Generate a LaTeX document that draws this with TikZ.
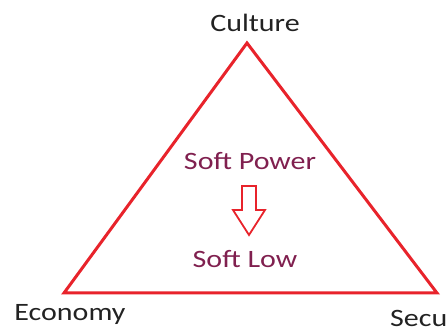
\documentclass[tikz,border=0pt]{standalone}
\usepackage{xcolor}
\usepackage{fontspec}
\setmainfont{Carlito}[FakeStretch=1.2]
\usepackage{tikz}
\usetikzlibrary{positioning, calc}

\definecolor{trired}{HTML}{E8232B}
\definecolor{softtext}{HTML}{80204F}
\definecolor{labeltext}{HTML}{222222}

\begin{document}
\begin{tikzpicture}[x=1pt, y=-1pt,
    corner/.style={font=\fontsize{25}{28}\selectfont, text=labeltext, inner sep=0pt},
    soft/.style={font=\fontsize{25}{28}\selectfont, text=softtext, inner sep=0pt}]
    \useasboundingbox (0,0) rectangle (448,328);
    \clip (0,0) rectangle (448,328);
    % Triangle corners
    \coordinate (top) at (247,43);
    \coordinate (left) at (64,293);
    \coordinate (right) at (437,293);
    \draw[trired, line width=3pt, line join=miter] (top) -- (left) -- (right) -- cycle;
    % Corner labels
    \node[corner, anchor=base] (culture) at (255,32) {Culture};
    \node[corner, anchor=base] (economy) at (70,321) {Economy};
    \node[corner, anchor=base west] (security) at (390,327) {Security};
    % Content
    \node[soft, anchor=base] (power) at (250,170) {Soft Power};
    \node[soft, anchor=base] (law) at (245,268) {Soft Low};
    % Hollow arrow
    \draw[trired, line width=1.8pt, line join=miter]
        (242,186) -- (256,186) -- (256,210) -- (265,210) -- (249,235)
        -- (233,210) -- (242,210) -- cycle;
\end{tikzpicture}
\end{document}
